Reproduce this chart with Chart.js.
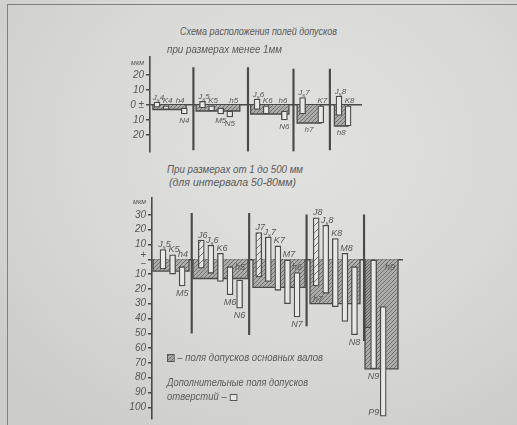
<!DOCTYPE html>
<html lang="ru"><head><meta charset="utf-8">
<script src="https://cdn.jsdelivr.net/npm/chart.js@4.4.1/dist/chart.umd.min.js"></script>
<style>
html,body{margin:0;padding:0}
body{width:517px;height:425px;overflow:hidden;position:relative;
 background: radial-gradient(ellipse 75% 80% at 58% 35%, #e1e1df 0%, #d9d9d7 55%, #cccccb 100%);
 font-family:"Liberation Sans","Noto Sans",sans-serif;font-style:italic;color:#5a5a5a}
.fr-top{position:absolute;left:7px;top:4px;right:0;height:0;border-top:1.5px solid #808080}
.fr-left{position:absolute;left:7px;top:4px;bottom:0;width:0;border-left:1.5px solid #808080}
canvas{position:absolute;left:0}
#c1{top:50px} #c2{top:190px}
.txt{position:absolute;white-space:nowrap;font-size:10px;line-height:10px;font-style:italic;transform-origin:0 50%}
.hbox{display:inline-block;width:6px;height:6px;border:1px solid #555;background:repeating-linear-gradient(135deg,#6f6f6d 0 1px,#a9a9a7 1px 3px);vertical-align:-1px}
.wbox{display:inline-block;width:6px;height:5px;border:1px solid #555;background:#e6e6e4;vertical-align:-1px}
</style></head><body>
<div class="fr-top"></div><div class="fr-left"></div>
<canvas id="c1" width="517" height="108"></canvas>
<canvas id="c2" width="517" height="235"></canvas>
<div class="txt" data-cx="258" data-w="157" style="top:27px">Схема расположения полей допусков</div>
<div class="txt" data-cx="224" data-w="115" style="top:45px">при размерах менее 1мм</div>
<div class="txt" data-cx="235" data-w="136" style="top:165px">При размерах от 1 до 500 мм</div>
<div class="txt" data-cx="232" data-w="127" style="top:178px">(для интервала 50-80мм)</div>
<div class="txt" data-x="167" data-w="156" style="top:353px"><span class="hbox"></span> – поля допусков основных валов</div>
<div class="txt" data-x="167" data-w="141" style="top:378px">Дополнительные поля допусков</div>
<div class="txt" data-x="167" data-w="70" style="top:392px">отверстий – <span class="wbox"></span></div>
<script>
// ---------- data: sizes below 1 mm ----------
const topCats = ['Js4','K4','','N4','|','Js5','K5','M5','N5','','|','Js6','K6','','N6','|','Js7','','K7','|','Js8','K8'];
const topLow  = [-1.5,-3,null,-6,null,-2,-4,-6,-8,null,null,-3,-6,null,-10,null,-6,null,-12,null,-7,-14];
const topHigh = [2,0,null,-2,null,2.5,0,-2,-4,null,null,4,0,null,-4,null,5,null,0,null,6,0];
const topSepTop = [25,25,24,24];
const topSepBottom = [-30,-31,-31,-30];
const topFieldNames = ['h4','h5','h6','h7','h8'];
const topFieldLow = [-3,-4,-6,-12,-14];
const topTicks = [20,10,0,-10,-20];

// ---------- data: sizes 1..500 mm (interval 50-80 mm) ----------
const botCats = ['Js5','K5','M5','|','J6','Js6','K6','M6','N6','|','J7','Js7','K7','M7','N7','|','J8','Js8','K8','M8','N8','|','N9','P9'];
const botLow  = [-6.5,-10,-18,null,-6,-9.5,-15,-24,-33,null,-12,-15,-21,-30,-39,null,-18,-23,-32,-42,-51,null,-74,-106];
const botHigh = [6.5,3,-5,null,13,9.5,4,-5,-14,null,18,15,9,0,-9,null,28,23,14,4,-5,null,0,-32];
const botSepTop = [31,31,30,30];
const botSepBottom = [-50,-51,-45,-55];
const botFieldNames = ['h4','h5','h6','h7','h9','h8'];
const botFieldLow = [-8,-13,-19,-30,-74,-46];
const botTicks = [30,20,10,0,-10,-20,-30,-40,-50,-60,-70,-80,-90,-100];

// ---------- layout (not data) ----------
const topFieldSpan = [[-0.45,3.2],[4.3,9.1],[10.3,14.5],[15.4,18.0],[19.5,21.0]];
const topFieldLabel = ['above','above','above','below','below'];
const botFieldSpan = [[-1.04,2.72],[3.13,8.88],[9.4,14.84],[15.36,20.58],[21.1,24.55],[21.1,21.94]];
const botFieldLabel = ['above','inside','inside','insideBottom','inside',null];

const INK = '#4a4a4a', TEXT = '#575757';

function hatch(bg, fg, size){
  const c = document.createElement('canvas'); c.width = c.height = size;
  const g = c.getContext('2d');
  g.fillStyle = bg; g.fillRect(0,0,size,size);
  g.strokeStyle = fg; g.lineWidth = 1;
  g.beginPath();
  g.moveTo(0,size); g.lineTo(size,0);
  g.moveTo(-2,2); g.lineTo(2,-2);
  g.moveTo(size-2,size+2); g.lineTo(size+2,size-2);
  g.stroke();
  return g.createPattern(c,'repeat');
}
const fieldFill = hatch('#acacaa','#737371',4);
const fieldFillDark = hatch('#9c9c9a','#666664',3);
const jFill = hatch('#e4e4e2','#777775',7);
const holeFill = '#e8e8e6';

function drawName(ctx, name, x, y, align, size){
  const m = /^([A-Za-z])(s?)(\d*)$/.exec(name);
  const big = `italic ${size}px "Liberation Sans", sans-serif`;
  const small = `italic ${Math.round(size*0.72)}px "Liberation Sans", sans-serif`;
  ctx.font = big;
  const w1 = ctx.measureText(m[1]).width, w3 = ctx.measureText(m[3]).width;
  ctx.font = small;
  const w2 = m[2] ? ctx.measureText(m[2]).width : 0;
  const tot = w1 + w2 + w3;
  const x0 = align === 'center' ? x - tot/2 : align === 'right' ? x - tot : x;
  ctx.textAlign = 'left'; ctx.textBaseline = 'alphabetic';
  ctx.font = big; ctx.fillText(m[1], x0, y);
  if (w2) { ctx.font = small; ctx.fillText(m[2], x0 + w1, y + 2); }
  ctx.font = big; ctx.fillText(m[3], x0 + w1 + w2, y);
}

function build(id, c){
  const idx = c.cats.map((_, i) => i);
  const holeIdx = idx.filter(i => c.cats[i] && c.cats[i] !== '|');
  const sepIdx = idx.filter(i => c.cats[i] === '|');
  const datasets = [];
  datasets.push({
    type:'bar', label:'sep',
    data: sepIdx.map((x,k) => ({x, y:[c.sepBottom[k], c.sepTop[k]]})),
    backgroundColor: INK, borderWidth:0, barThickness:1.5, grouped:false, order:40
  });
  c.fieldNames.forEach((n,k) => {
    const [a,b] = c.fieldSpan[k];
    const lo = c.fieldLow[k];
    datasets.push({
      type:'line', label:n,
      data:[{x:a,y:0},{x:a,y:lo},{x:b,y:lo},{x:b,y:0}],
      fill:'origin', backgroundColor: n === 'h8' && id === 'c2' ? fieldFillDark : fieldFill,
      borderColor: INK, borderWidth:1.3, pointRadius:0, tension:0, order: 30 - k
    });
  });
  datasets.push({
    type:'bar', label:'holes',
    data: holeIdx.map(i => ({x:i, y:[c.low[i], c.high[i]]})),
    backgroundColor: ctx => {
      const nm = c.cats[holeIdx[ctx.dataIndex]] || '';
      return (/^J\d/.test(nm)) ? jFill : holeFill;
    },
    borderColor: INK, borderWidth:1.3, borderSkipped:false, barThickness:6, grouped:false, order:1
  });

  const labels = {
    id:'marks',
    afterDatasetsDraw(chart){
      const ctx = chart.ctx, xs = chart.scales.x, ys = chart.scales.y;
      ctx.save(); ctx.fillStyle = TEXT;
      holeIdx.forEach(i => {
        const nm = c.cats[i];
        const x = xs.getPixelForValue(i);
        const yt = ys.getPixelForValue(c.high[i]), yb = ys.getPixelForValue(c.low[i]);
        const pos = (c.override && c.override[nm]) || (c.high[i] >= 0 ? 'above' : 'below');
        if (pos === 'above') drawName(ctx, nm, x + 1.5, yt - 2.5, 'center', c.fs);
        else if (pos === 'below') drawName(ctx, nm, x, yb + c.fs + 1, 'center', c.fs);
        else if (pos === 'left') drawName(ctx, nm, x - 4, yb - 1, 'right', c.fs);
      });
      c.fieldNames.forEach((n,k) => {
        const p = c.fieldLabel[k]; if (!p) return;
        const xa = xs.getPixelForValue(c.fieldSpan[k][0]), xb = xs.getPixelForValue(c.fieldSpan[k][1]);
        const y0 = ys.getPixelForValue(0), yl = ys.getPixelForValue(c.fieldLow[k]);
        if (p === 'above') drawName(ctx, n, xb - 6, y0 - 2.5, 'center', c.fs);
        else if (p === 'below') drawName(ctx, n, (xa + xb)/2, yl + c.fs + 1, 'center', c.fs);
        else if (p === 'inside') drawName(ctx, n, xb - 8, y0 + c.fs + 2, 'center', c.fs);
        else if (p === 'insideBottom') drawName(ctx, n, xa + 8, yl - 2, 'center', c.fs);
      });
      ctx.restore();
    }
  };

  return new Chart(document.getElementById(id), {
    type:'bar',
    data:{ datasets },
    options:{
      responsive:false, animation:false, devicePixelRatio:1,
      layout:{ padding: c.pad },
      plugins:{ legend:{display:false}, tooltip:{enabled:false}, title:{display:false} },
      scales:{
        x:{ type:'linear', display:false, offset:false, min:c.xr[0], max:c.xr[1] },
        y:{
          min:c.yr[0], max:c.yr[1],
          afterBuildTicks: s => { s.ticks = c.ticks.concat([c.unit]).map(v => ({value:v})); },
          afterFit: s => { s.width = 40; },
          border:{ color:INK, width:1.6 },
          grid:{
            drawOnChartArea:true, tickLength:4,
            color: ctx => (ctx.tick && ctx.tick.value === 0) ? INK : 'rgba(0,0,0,0)',
            lineWidth: 1.5,
            tickColor: ctx => (ctx.tick && ctx.tick.value === c.unit) ? 'rgba(0,0,0,0)' : INK
          },
          ticks:{
            autoSkip:false, padding:2, color:TEXT,
            font: ctx => (ctx.tick && ctx.tick.value === c.unit)
              ? {family:'"Liberation Sans", sans-serif', style:'italic', size:7}
              : {family:'"Liberation Sans", sans-serif', style:'italic', size:10, lineHeight:0.9},
            callback: v => v === c.unit ? 'мкм' : (v === 0 ? c.zero : String(Math.abs(v)))
          }
        }
      }
    },
    plugins:[labels]
  });
}

build('c1', {
  cats:topCats, low:topLow, high:topHigh, sepTop:topSepTop, sepBottom:topSepBottom,
  fieldNames:topFieldNames, fieldLow:topFieldLow, fieldSpan:topFieldSpan, fieldLabel:topFieldLabel,
  ticks:topTicks, unit:28, zero:'0 ±', fs:8,
  xr:[-0.77, 22.53], yr:[-31, 32], pad:{left:110, right:155, top:7, bottom:6}, override:{}
});
build('c2', {
  cats:botCats, low:botLow, high:botHigh, sepTop:botSepTop, sepBottom:botSepBottom,
  fieldNames:botFieldNames, fieldLow:botFieldLow, fieldSpan:botFieldSpan, fieldLabel:botFieldLabel,
  ticks:botTicks, unit:39, zero:['+','−'], fs:9,
  xr:[-1.149, 25.07], yr:[-107.6, 41.4], pad:{left:112, right:114, top:8, bottom:2},
  override:{N9:'below', P9:'left'}
});

document.querySelectorAll('.txt').forEach(el => {
  const w = el.getBoundingClientRect().width;
  const tw = +el.dataset.w;
  const left = el.dataset.cx ? (+el.dataset.cx - tw/2) : +el.dataset.x;
  el.style.left = left + 'px';
  el.style.transform = 'scaleX(' + (tw / w) + ')';
});
</script>
</body></html>
